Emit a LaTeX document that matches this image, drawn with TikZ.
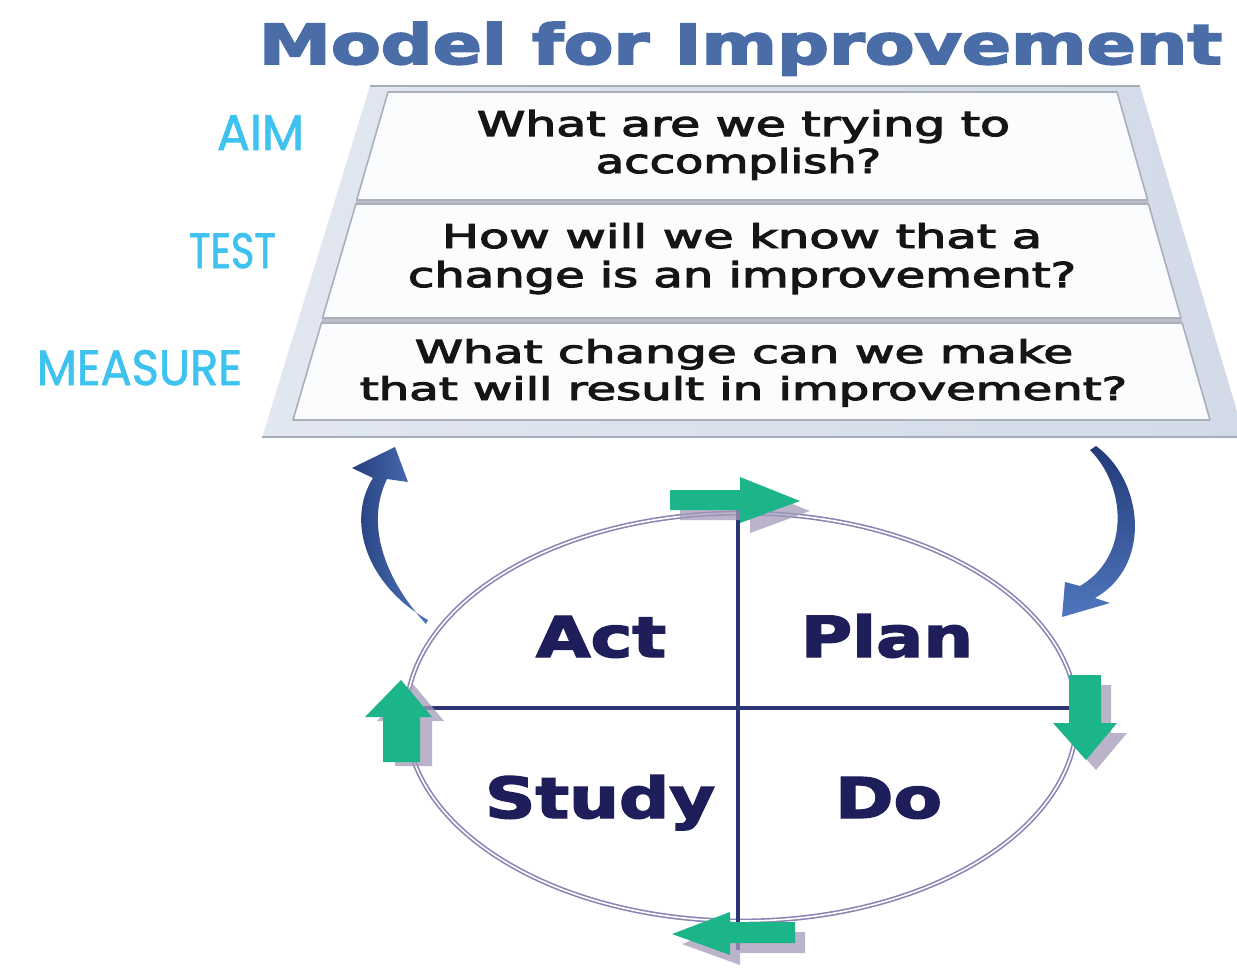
\documentclass[tikz,border=0pt]{standalone}
\usepackage{fontspec}
\setmainfont{DejaVu Sans}
\newfontfamily\labelfont[FakeBold=1.5]{Poppins}
\newfontfamily\qfont[FakeBold=3]{DejaVu Sans}
\newfontfamily\titlefont[FakeBold=3]{DejaVu Sans Bold}
\newfontfamily\wordfont[FakeBold=2.5]{DejaVu Sans Bold}
\definecolor{titleblue}{HTML}{4A6DA8}
\definecolor{labelcyan}{HTML}{3EC3F0}
\definecolor{qtext}{HTML}{151515}
\definecolor{navy}{HTML}{1E1E5A}
\definecolor{axisblue}{HTML}{2C3575}
\definecolor{ellcol}{HTML}{8884B6}
\definecolor{greenarrow}{HTML}{1CB489}
\definecolor{greenshadow}{HTML}{A39AB8}
\definecolor{framefill}{HTML}{D2DAE8}
\definecolor{frameedge}{HTML}{A7AEBB}
\definecolor{panelfill}{HTML}{FBFCFE}
\definecolor{paneledge}{HTML}{A9AFBB}
\definecolor{arrowdark}{HTML}{223A78}
\definecolor{arrowlight}{HTML}{4F77BE}
\begin{document}
\begin{tikzpicture}[x=1pt,y=-1pt,
  txt/.style={inner sep=0pt, anchor=base},
  qline/.style={txt, text=qtext, font=\qfont},
  word/.style={txt, text=navy, font=\wordfont},
  sidelabel/.style={txt, text=labelcyan, font=\labelfont},
  panel/.style={fill=panelfill, draw=paneledge, line width=1.6pt, line join=round},
  axisline/.style={draw=axisblue, line width=3.4pt},
  ring/.style={draw=ellcol, double=white, double distance=1.6pt, line width=1.6pt},
  garrow/.style={fill=greenarrow},
  gshadow/.style={fill=greenshadow, opacity=0.75},
]
\useasboundingbox (0,0) rectangle (1237,971);
\fill[white] (0,0) rectangle (1237,971);

% ---------- title ----------
\node[txt, text=titleblue, font=\titlefont] (title) at (740.5,64)
  {\resizebox{963pt}{42pt}{Model for Improvement}};

% ---------- pyramid frame ----------
\shade[left color=framefill!65!white, right color=framefill] (370,86) -- (1140,86) -- (1245,438) -- (262,438) -- cycle;
\draw[frameedge, line width=1.4pt] (370,86) -- (1140,86);
\draw[frameedge, line width=2pt] (262,437) -- (1245,437);
\fill[frameedge!80] (356.7,199) -- (1147.6,199) -- (1148.5,204) -- (355.9,204) -- cycle;
\fill[frameedge!80] (322.5,317) -- (1181,317) -- (1182.2,323) -- (321.4,323) -- cycle;
\path[panel] (388,92) -- (1117,92) -- (1147.6,200) -- (356.7,200) -- cycle;
\path[panel] (355.9,204) -- (1148.5,204) -- (1181,318) -- (322.5,318) -- cycle;
\path[panel] (321.4,323) -- (1182.2,323) -- (1210,420) -- (293,420) -- cycle;

% ---------- questions ----------
\node[qline] (q1a) at (743.5,136) {\resizebox{533pt}{26pt}{What are we trying to}};
\node[qline] (q1b) at (738.5,173) {\resizebox{285pt}{25pt}{accomplish?}};
\node[qline] (q2a) at (742,248) {\resizebox{600pt}{25pt}{How will we know that a}};
\node[qline] (q2b) at (742,287) {\resizebox{668pt}{26pt}{change is an improvement?}};
\node[qline] (q3a) at (744,363) {\resizebox{658pt}{24pt}{What change can we make}};
\node[qline] (q3b) at (743.5,400) {\resizebox{767pt}{24pt}{that will result in improvement?}};

% ---------- side labels ----------
\node[sidelabel] (aim) at (260.5,150) {\resizebox{87pt}{35pt}{AIM}};
\node[sidelabel] (test) at (232.5,268) {\resizebox{87pt}{35pt}{TEST}};
\node[sidelabel] (measure) at (139.5,385) {\resizebox{205pt}{35pt}{MEASURE}};

% ---------- cycle ----------
\path[ring] (741.5,717) ellipse [x radius=335.5, y radius=204];
\path[axisline] (738,506) -- (738,950);
\path[axisline] (410,708) -- (1073,708);

% words
\node[word] (act) at (601,657) {\resizebox{130pt}{41pt}{Act}};
\node[word] (plan) at (887,657) {\resizebox{172pt}{43pt}{Plan}};
\node[word] (study) at (600,818) {\resizebox{230pt}{43pt}{Study}};
\node[word] (do) at (888.5,818) {\resizebox{107pt}{41pt}{Do}};

% green arrows: shadows
\begin{scope}[shift={(10,10)}]
\path[gshadow] (670,490) -- (740,490) -- (740,477) -- (800,501) -- (740,523) -- (740,510) -- (670,510) -- cycle;
\path[gshadow] (1069,675) -- (1101,675) -- (1101,723) -- (1117,723) -- (1086,760) -- (1053,723) -- (1069,723) -- cycle;
\path[gshadow] (795,922) -- (730,922) -- (730,912) -- (672,934) -- (730,955) -- (730,943) -- (795,943) -- cycle;
\end{scope}
\begin{scope}[shift={(12,4)}]
\path[gshadow] (383,762) -- (383,717) -- (365,717) -- (401,680) -- (432,717) -- (420,717) -- (420,762) -- cycle;
\end{scope}
% green arrows
\path[garrow] (670,490) -- (740,490) -- (740,477) -- (800,501) -- (740,523) -- (740,510) -- (670,510) -- cycle;
\path[garrow] (1069,675) -- (1101,675) -- (1101,723) -- (1117,723) -- (1086,760) -- (1053,723) -- (1069,723) -- cycle;
\path[garrow] (795,922) -- (730,922) -- (730,912) -- (672,934) -- (730,955) -- (730,943) -- (795,943) -- cycle;
\path[garrow] (383,762) -- (383,717) -- (365,717) -- (401,680) -- (432,717) -- (420,717) -- (420,762) -- cycle;

% ---------- blue curved arrows ----------
\shade[left color=arrowdark, right color=arrowlight]
  (428,620) .. controls (368,586) and (345,522) .. (373,478)
  -- (352,468) -- (395,447) -- (408,482) -- (387,479)
  .. controls (366,522) and (382,576) .. (426,624) -- cycle;
\shade[top color=arrowdark, bottom color=arrowlight]
  (1090,450) .. controls (1126,486) and (1131,556) .. (1080,586)
  -- (1065,582) -- (1062,617) -- (1110,603) -- (1095,598)
  .. controls (1153,565) and (1143,480) .. (1096,446) -- cycle;
\end{tikzpicture}
\end{document}
